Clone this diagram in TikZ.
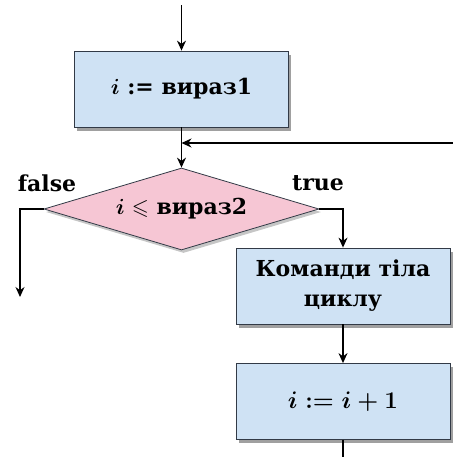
\documentclass[tikz,border=0pt]{standalone}
\usepackage{amsmath,amssymb}
\usepackage{fontspec}
\setmainfont{DejaVu Serif}
\usepackage{tikz}
\usetikzlibrary{arrows.meta,positioning,shapes.geometric,shadows}

\definecolor{boxblue}{RGB}{207,226,244}
\definecolor{boxpink}{RGB}{246,198,212}
\definecolor{edgegray}{RGB}{50,58,70}

\begin{document}
\begin{tikzpicture}[x=0.5pt, y=-0.5pt,
    block/.style={draw=edgegray, fill=boxblue, minimum width=107pt,
                  minimum height=38pt, align=center, inner sep=2pt,
                  font=\fontsize{11}{15}\selectfont\bfseries\boldmath,
                  drop shadow={shadow xshift=1.5pt, shadow yshift=-1.8pt, opacity=0.75}},
    decide/.style={diamond, draw=edgegray, fill=boxpink, aspect=3.3,
                   minimum width=137.5pt, minimum height=41pt, inner sep=0pt,
                   font=\fontsize{11}{13}\selectfont\bfseries\boldmath,
                   drop shadow={shadow xshift=1pt, shadow yshift=-1.5pt, opacity=0.45}},
    lbl/.style={font=\fontsize{11}{13}\selectfont\bfseries},
    arr/.style={-{Stealth[length=5pt, width=4.5pt]}, semithick}]
  \useasboundingbox (0,0) rectangle (453,457);
  \node[block]  (init) at (181.5,89) {$i$ := вираз1};
  \node[decide] (cond) at (181.5,209) {$i\leqslant$ вираз2};
  \node[block]  (body) at (343,286) {Команди тіла\\ циклу};
  \node[block]  (step) at (343,401.5) {\large $i := i + 1$};
  \coordinate (entry) at (181.5,5);
  \coordinate (back)  at (453,143);
  \coordinate (join)  at (181.5,143);
  \coordinate (out)   at (20,297);
  \coordinate (tail)  at (343,457);
  \draw[arr] (entry) -- (init);
  \draw[arr] (init) -- (cond);
  \draw[arr] (back) -- (join);
  \draw[arr] (cond.west) -| (out);
  \draw[arr] (cond.east) -| (body.north);
  \draw[arr] (body) -- (step);
  \draw[semithick] (step) -- (tail);
  \node[lbl] (no)  at (47,183)  {false};
  \node[lbl] (yes) at (318,183) {true};
\end{tikzpicture}
\end{document}
